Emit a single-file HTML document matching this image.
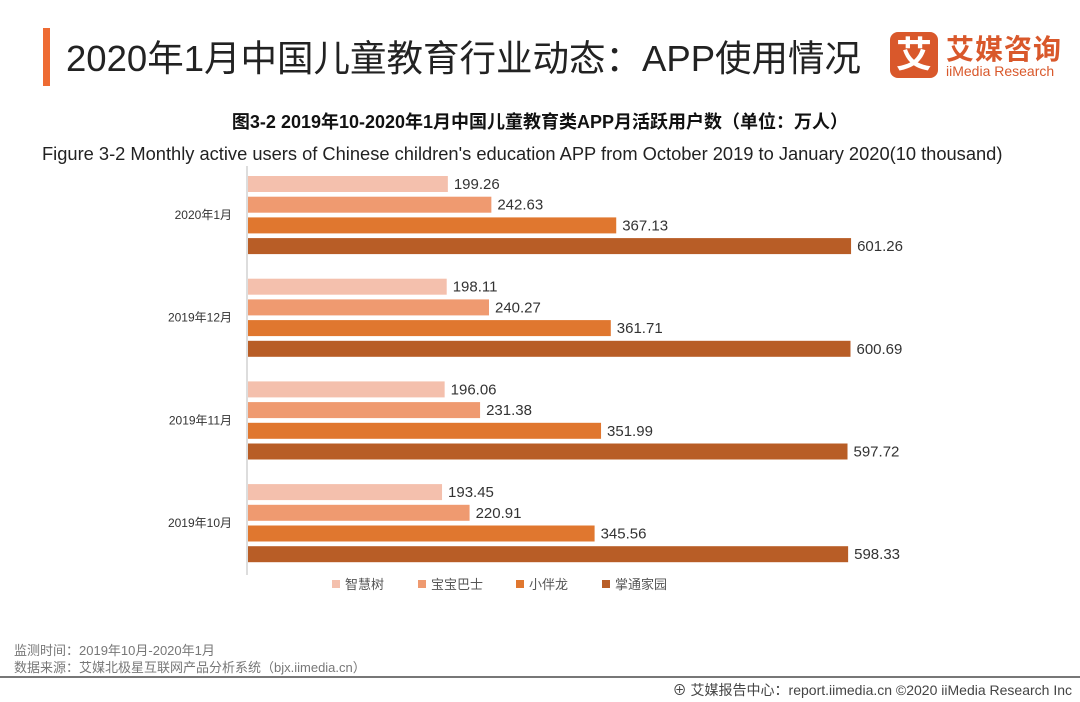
<!DOCTYPE html>
<html><head><meta charset="utf-8"><style>
body{margin:0;width:1080px;height:702px;background:#fff;overflow:hidden;position:relative;font-family:"Liberation Sans","Noto Sans CJK SC",sans-serif}
.a{position:absolute;white-space:nowrap}
</style></head><body>
<div class="a" style="left:43px;top:28px;width:7px;height:58px;background:#ee6b33"></div>
<div class="a" style="left:66px;top:29px;font-size:36.5px;color:#222">2020年1月中国儿童教育行业动态：APP使用情况</div>
<div class="a" style="left:890px;top:32px;width:48px;height:46px;background:#d9582b;border-radius:8px;color:#fff;font-size:36px;text-align:center;line-height:46px;font-weight:bold">艾</div>
<div class="a" style="left:946px;top:28px;font-size:28px;color:#d9582b;font-weight:bold;letter-spacing:1px">艾媒咨询</div>
<div class="a" style="left:946px;top:63px;font-size:14px;color:#d9582b">iiMedia Research</div>
<div class="a" style="left:0;width:1080px;text-align:center;top:108px;font-size:18px;font-weight:bold;color:#111">图3-2 2019年10-2020年1月中国儿童教育类APP月活跃用户数（单位：万人）</div>
<div class="a" style="left:42px;top:143px;font-size:18.3px;color:#222">Figure 3-2 Monthly active users of Chinese children's education APP from October 2019 to January 2020(10 thousand)</div>
<svg class="a" style="left:0;top:0" width="1080" height="702" id="chart"></svg>
<div class="a" style="left:14px;top:640px;font-size:13px;color:#777">监测时间：2019年10月-2020年1月</div>
<div class="a" style="left:14px;top:657px;font-size:13px;color:#777">数据来源：艾媒北极星互联网产品分析系统（bjx.iimedia.cn）</div>
<div class="a" style="left:0;top:676px;width:1080px;height:2px;background:#777"></div>
<div class="a" style="right:8px;top:680px;font-size:14px;color:#444">⊕ 艾媒报告中心：report.iimedia.cn  ©2020  iiMedia Research Inc</div>
<script>
const categories=["2020年1月","2019年12月","2019年11月","2019年10月"];
const seriesNames=["智慧树","宝宝巴士","小伴龙","掌通家园"];
const s0=[199.26,198.11,196.06,193.45];
const s1=[242.63,240.27,231.38,220.91];
const s2=[367.13,361.71,351.99,345.56];
const s3=[601.26,600.69,597.72,598.33];
const series=[s0,s1,s2,s3];
const colors=["#f4c0ad","#ef9a70","#e0772f","#b85d26"];
const svg=document.getElementById('chart');const NS="http://www.w3.org/2000/svg";
const x0=248,scale=1.003,g0=176,gStep=102.7,bStep=20.7,bh=16;
const xs=v=>x0+v*scale;
function mk(t,a){const e=document.createElementNS(NS,t);for(const k in a)e.setAttribute(k,a[k]);svg.appendChild(e);return e;}
const ax=mk('line',{x1:247,x2:247,y1:166,y2:575,stroke:'#bbb','stroke-width':1});


categories.forEach((c,i)=>{
  const gy=g0+i*gStep;
  const t=mk('text',{x:232,y:gy+43,'text-anchor':'end','font-size':12,fill:'#333'});t.textContent=c;
  
  
  series.forEach((s,j)=>{
    const y=gy+j*bStep;
    const r=mk('rect',{x:x0,y:y,width:xs(s[i])-x0,height:bh,fill:colors[j]});
    
    
    const l=mk('text',{x:xs(s[i])+6,y:y+13,'font-size':15,fill:'#333'});l.textContent=s[i].toFixed(2);
    
    
  });
});
const lx=[332,418,516,602];
seriesNames.forEach((n,j)=>{
  const r=mk('rect',{x:lx[j],y:580,width:8,height:8,fill:colors[j]});
  
  
  const t=mk('text',{x:lx[j]+13,y:589,'font-size':13,fill:'#555'});t.textContent=n;
  
  
});
</script>
</body></html>
